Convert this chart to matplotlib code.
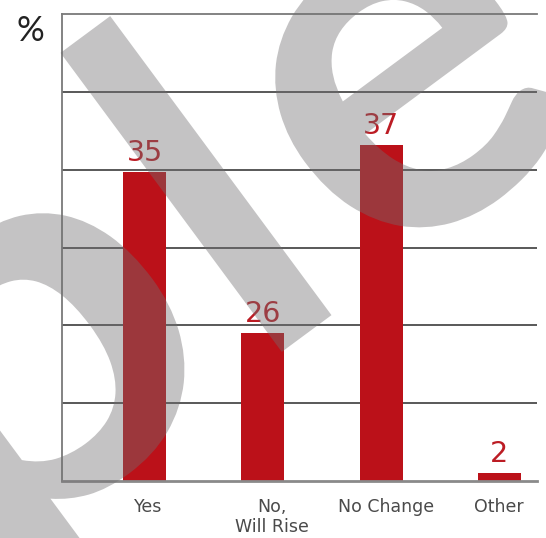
import numpy as np
import matplotlib
matplotlib.use("Agg")
import matplotlib.pyplot as plt
from matplotlib.textpath import TextPath
from matplotlib.font_manager import FontProperties
from matplotlib.patches import PathPatch
from matplotlib.transforms import Affine2D, IdentityTransform, ScaledTranslation

categories = ["Yes", "No,\nWill Rise", "No Change", "Other"]
label_values = [35, 26, 37, 2]
# bar tops as they sit against the gridlines (axis read as 0-60)
bar_heights = [39.7, 19.0, 43.2, 1.0]

W, H = 546, 538
RED = "#bb1119"

fig = plt.figure(figsize=(W / 100, H / 100), dpi=100)
ax = fig.add_axes([62 / W, (H - 481) / H, (537 - 62) / W, (481 - 14) / H])

x = np.arange(len(categories))
ax.bar(x, bar_heights, width=0.364, color=RED, zorder=2)
ax.set_xlim(-0.70, 3.32)
ax.set_ylim(0, 60)
ax.set_yticks(np.arange(10, 60, 10))
ax.yaxis.grid(True, color="#3c3c3c", lw=1.2, zorder=1)
ax.set_axisbelow(True)
ax.tick_params(left=False, labelleft=False, bottom=False, pad=9)
ax.set_xticks(x)
ax.set_xticklabels(categories, fontsize=12.5, color="#4a4a4a",
                   family="DejaVu Sans", linespacing=1.15)
# labels sit a little right of their bars in the original
for lab, dx in zip(ax.get_xticklabels(), [3, 9, 5, 0]):
    lab.set_transform(lab.get_transform() + ScaledTranslation(dx / 100, 0, fig.dpi_scale_trans))
for side in ("left", "top"):
    ax.spines[side].set_color("#7a7a7a")
    ax.spines[side].set_linewidth(1.3)
ax.spines["right"].set_visible(False)
ax.spines["bottom"].set_color("#8a8a8a")
ax.spines["bottom"].set_linewidth(2)

for xi, h, v in zip(x, bar_heights, label_values):
    ax.annotate(str(v), (xi, h), xytext=(0, 8), textcoords="offset points",
                ha="center", va="baseline", fontsize=20.5, color="#bc1c24",
                family="DejaVu Sans")

fig.text(30 / W, 1 - 31 / H, "%", ha="center", va="center", fontsize=25,
         family="Lato", color="#222222")

# grey "ple" watermark across the chart
wm_font = FontProperties(family="Lato", weight="bold")
wm_angle = 36.5
# letter, image-pixel centre, size factor, extra width factor
letters = [("p", 28, 374, 1.06, 1.15), ("l", 196, 184, 1.0, 1.0),
           ("e", 408, 92, 1.06, 1.0)]
scale = 372 / TextPath((0, 0), "l", size=1, prop=wm_font).get_extents().height
xh = TextPath((0, 0), "x", size=1, prop=wm_font).get_extents().height
for ch, cx, cy, k, sx in letters:
    tp = TextPath((0, 0), ch, size=1, prop=wm_font)
    bb = tp.get_extents()
    if ch == "p":
        ax0, ay0 = bb.x1 - xh / 2, xh / 2
    else:
        ax0, ay0 = (bb.x0 + bb.x1) / 2, (bb.y0 + bb.y1) / 2
    tr = (Affine2D().translate(-ax0, -ay0).scale(scale * k * sx, scale * k)
          .rotate_deg(wm_angle).translate(cx, H - cy))
    patch = PathPatch(tr.transform_path(tp), transform=IdentityTransform(),
                      facecolor=(0.44, 0.43, 0.44), edgecolor="none",
                      alpha=0.41, zorder=10)
    fig.add_artist(patch)

fig.savefig("out.png", dpi=100)
